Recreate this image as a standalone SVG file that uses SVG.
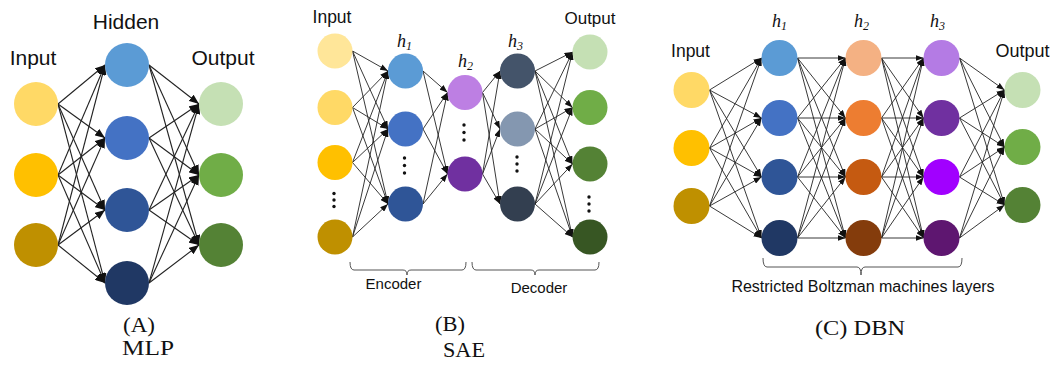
<svg xmlns="http://www.w3.org/2000/svg" width="1058" height="369" viewBox="0 0 1058 369">
  <defs>
    <marker id="arrA" markerUnits="userSpaceOnUse" markerWidth="10" markerHeight="8" refX="10" refY="4" orient="auto">
      <path d="M0,0 L10,4 L0,8 z" fill="#111"/>
    </marker>
    <marker id="arrB" markerUnits="userSpaceOnUse" markerWidth="8" markerHeight="6" refX="8" refY="3" orient="auto">
      <path d="M0,0 L8,3 L0,6 z" fill="#111"/>
    </marker>
  </defs>
  <style>
    .eA line { stroke: #222; stroke-width: 1.1; marker-end: url(#arrA); }
    .eB line { stroke: #222; stroke-width: 0.9; marker-end: url(#arrB); }
    .lbl { font-family: "Liberation Sans", Arial, sans-serif; fill: #111; text-anchor: middle; }
    .h { font-family: "Liberation Serif", "Times New Roman", serif; font-style: italic; fill: #111; }
    .cap { font-family: "Liberation Serif", "Times New Roman", serif; fill: #111; font-size: 22px; }
    .brace { fill: none; stroke: #555; stroke-width: 1; }
    .dot { fill: #111; }
  </style>
  <rect width="1058" height="369" fill="#fff"/>

  <!-- ===== (A) MLP connectors ===== -->
  <g id="connectors-mlp" class="eA">
    <line x1="58" y1="104" x2="105" y2="65"/><line x1="58" y1="104" x2="105" y2="138"/><line x1="58" y1="104" x2="105" y2="210"/><line x1="58" y1="104" x2="105" y2="283"/>
    <line x1="58" y1="175" x2="105" y2="65"/><line x1="58" y1="175" x2="105" y2="138"/><line x1="58" y1="175" x2="105" y2="210"/><line x1="58" y1="175" x2="105" y2="283"/>
    <line x1="58" y1="245" x2="105" y2="65"/><line x1="58" y1="245" x2="105" y2="138"/><line x1="58" y1="245" x2="105" y2="210"/><line x1="58" y1="245" x2="105" y2="283"/>
    <line x1="149" y1="65" x2="199" y2="104"/><line x1="149" y1="65" x2="199" y2="175"/><line x1="149" y1="65" x2="199" y2="245"/>
    <line x1="149" y1="138" x2="199" y2="104"/><line x1="149" y1="138" x2="199" y2="175"/><line x1="149" y1="138" x2="199" y2="245"/>
    <line x1="149" y1="210" x2="199" y2="104"/><line x1="149" y1="210" x2="199" y2="175"/><line x1="149" y1="210" x2="199" y2="245"/>
    <line x1="149" y1="283" x2="199" y2="104"/><line x1="149" y1="283" x2="199" y2="175"/><line x1="149" y1="283" x2="199" y2="245"/>
  </g>

  <!-- ===== (A) MLP nodes ===== -->
  <g id="mlp-in1"><circle cx="36" cy="104" r="22" fill="#FFD966"/></g>
  <g id="mlp-in2"><circle cx="36" cy="175" r="22" fill="#FFC000"/></g>
  <g id="mlp-in3"><circle cx="36" cy="245" r="22" fill="#BF9000"/></g>
  <g id="mlp-h1"><circle cx="127" cy="65" r="22" fill="#5B9BD5"/></g>
  <g id="mlp-h2"><circle cx="127" cy="138" r="22" fill="#4472C4"/></g>
  <g id="mlp-h3"><circle cx="127" cy="210" r="22" fill="#2F5597"/></g>
  <g id="mlp-h4"><circle cx="127" cy="283" r="22" fill="#203864"/></g>
  <g id="mlp-out1"><circle cx="221" cy="104" r="22" fill="#C5E0B4"/></g>
  <g id="mlp-out2"><circle cx="221" cy="175" r="22" fill="#70AD47"/></g>
  <g id="mlp-out3"><circle cx="221" cy="245" r="22" fill="#548235"/></g>
  <g id="mlp-labels">
    <text class="lbl" x="33" y="65" font-size="21">Input</text>
    <text class="lbl" x="126" y="29" font-size="21">Hidden</text>
    <text class="lbl" x="223" y="65" font-size="21">Output</text>
  </g>

  <!-- ===== (B) SAE connectors ===== -->
  <g id="connectors-sae" class="eB">
    <line x1="352.5" y1="51" x2="388" y2="71"/><line x1="352.5" y1="51" x2="388" y2="129"/><line x1="352.5" y1="51" x2="388" y2="204"/>
    <line x1="352.5" y1="107.5" x2="388" y2="71"/><line x1="352.5" y1="107.5" x2="388" y2="129"/><line x1="352.5" y1="107.5" x2="388" y2="204"/>
    <line x1="352.5" y1="162.5" x2="388" y2="71"/><line x1="352.5" y1="162.5" x2="388" y2="129"/><line x1="352.5" y1="162.5" x2="388" y2="204"/>
    <line x1="352.5" y1="237" x2="388" y2="71"/><line x1="352.5" y1="237" x2="388" y2="129"/><line x1="352.5" y1="237" x2="388" y2="204"/>
    <line x1="423" y1="71" x2="447.5" y2="92.5"/><line x1="423" y1="71" x2="447.5" y2="174"/>
    <line x1="423" y1="129" x2="447.5" y2="92.5"/><line x1="423" y1="129" x2="447.5" y2="174"/>
    <line x1="423" y1="204" x2="447.5" y2="92.5"/><line x1="423" y1="204" x2="447.5" y2="174"/>
    <line x1="482.5" y1="92.5" x2="500" y2="71"/><line x1="482.5" y1="92.5" x2="500" y2="129"/><line x1="482.5" y1="92.5" x2="500" y2="204"/>
    <line x1="482.5" y1="174" x2="500" y2="71"/><line x1="482.5" y1="174" x2="500" y2="129"/><line x1="482.5" y1="174" x2="500" y2="204"/>
    <line x1="535" y1="71" x2="572.5" y2="52"/><line x1="535" y1="71" x2="572.5" y2="107.5"/><line x1="535" y1="71" x2="572.5" y2="164"/><line x1="535" y1="71" x2="572.5" y2="237"/>
    <line x1="535" y1="129" x2="572.5" y2="52"/><line x1="535" y1="129" x2="572.5" y2="107.5"/><line x1="535" y1="129" x2="572.5" y2="164"/><line x1="535" y1="129" x2="572.5" y2="237"/>
    <line x1="535" y1="204" x2="572.5" y2="52"/><line x1="535" y1="204" x2="572.5" y2="107.5"/><line x1="535" y1="204" x2="572.5" y2="164"/><line x1="535" y1="204" x2="572.5" y2="237"/>
  </g>

  <!-- ===== (B) SAE nodes ===== -->
  <g id="sae-in1"><circle cx="335" cy="51" r="17.5" fill="#FFE699"/></g>
  <g id="sae-in2"><circle cx="335" cy="107.5" r="17.5" fill="#FFD966"/></g>
  <g id="sae-in3"><circle cx="335" cy="162.5" r="17.5" fill="#FFC000"/></g>
  <g id="sae-in4"><circle cx="335" cy="237" r="17.5" fill="#BF9000"/></g>
  <g id="sae-h1a"><circle cx="405.5" cy="71" r="17.5" fill="#5B9BD5"/></g>
  <g id="sae-h1b"><circle cx="405.5" cy="129" r="17.5" fill="#4472C4"/></g>
  <g id="sae-h1c"><circle cx="405.5" cy="204" r="17.5" fill="#2F5597"/></g>
  <g id="sae-h2a"><circle cx="465" cy="92.5" r="17.5" fill="#BD7FE3"/></g>
  <g id="sae-h2b"><circle cx="465" cy="174" r="17.5" fill="#7030A0"/></g>
  <g id="sae-h3a"><circle cx="517.5" cy="71" r="17.5" fill="#44546A"/></g>
  <g id="sae-h3b"><circle cx="517.5" cy="129" r="17.5" fill="#8497B0"/></g>
  <g id="sae-h3c"><circle cx="517.5" cy="204" r="17.5" fill="#333F50"/></g>
  <g id="sae-out1"><circle cx="590" cy="52" r="17.5" fill="#C5E0B4"/></g>
  <g id="sae-out2"><circle cx="590" cy="107.5" r="17.5" fill="#70AD47"/></g>
  <g id="sae-out3"><circle cx="590" cy="164" r="17.5" fill="#548235"/></g>
  <g id="sae-out4"><circle cx="590" cy="237" r="17.5" fill="#375623"/></g>

  <!-- vertical ellipses between nodes -->
  <g id="sae-dots">
    <circle class="dot" cx="334" cy="193.5" r="1.7"/><circle class="dot" cx="334" cy="200" r="1.7"/><circle class="dot" cx="334" cy="206.5" r="1.7"/>
    <circle class="dot" cx="404.5" cy="158" r="1.7"/><circle class="dot" cx="404.5" cy="165.5" r="1.7"/><circle class="dot" cx="404.5" cy="173" r="1.7"/>
    <circle class="dot" cx="464" cy="125" r="1.7"/><circle class="dot" cx="464" cy="132.5" r="1.7"/><circle class="dot" cx="464" cy="140" r="1.7"/>
    <circle class="dot" cx="517" cy="157" r="1.7"/><circle class="dot" cx="517" cy="164" r="1.7"/><circle class="dot" cx="517" cy="171" r="1.7"/>
    <circle class="dot" cx="589" cy="197" r="1.7"/><circle class="dot" cx="589" cy="204" r="1.7"/><circle class="dot" cx="589" cy="211" r="1.7"/>
  </g>

  <g id="sae-labels">
    <text class="lbl" x="332" y="23" font-size="17.5">Input</text>
    <text class="lbl" x="590" y="24" font-size="17">Output</text>
    <text class="h" x="397" y="47" font-size="18">h<tspan font-size="12" dy="3">1</tspan></text>
    <text class="h" x="458" y="67" font-size="18">h<tspan font-size="12" dy="3">2</tspan></text>
    <text class="h" x="508" y="47" font-size="18">h<tspan font-size="12" dy="3">3</tspan></text>
  </g>

  <g id="sae-encoder">
    <path class="brace" d="M350,262 Q350,270 354,270 L403,270 Q407,270 407,275 Q407,270 411,270 L462,270 Q466,270 466,262"/>
    <text class="lbl" x="393.5" y="289" font-size="15">Encoder</text>
  </g>
  <g id="sae-decoder">
    <path class="brace" d="M472,262 Q472,270 476,270 L531,270 Q535,270 535,275 Q535,270 539,270 L595,270 Q599,270 599,262"/>
    <text class="lbl" x="539" y="293" font-size="15">Decoder</text>
  </g>

  <!-- ===== (C) DBN connectors ===== -->
  <g id="connectors-dbn" class="eB">
    <line x1="709.5" y1="90" x2="761.5" y2="58"/><line x1="709.5" y1="90" x2="761.5" y2="118"/><line x1="709.5" y1="90" x2="761.5" y2="177"/><line x1="709.5" y1="90" x2="761.5" y2="238"/>
    <line x1="709.5" y1="148" x2="761.5" y2="58"/><line x1="709.5" y1="148" x2="761.5" y2="118"/><line x1="709.5" y1="148" x2="761.5" y2="177"/><line x1="709.5" y1="148" x2="761.5" y2="238"/>
    <line x1="709.5" y1="206" x2="761.5" y2="58"/><line x1="709.5" y1="206" x2="761.5" y2="118"/><line x1="709.5" y1="206" x2="761.5" y2="177"/><line x1="709.5" y1="206" x2="761.5" y2="238"/>

    <line x1="797.5" y1="58" x2="845.5" y2="58"/><line x1="797.5" y1="58" x2="845.5" y2="118"/><line x1="797.5" y1="58" x2="845.5" y2="177"/><line x1="797.5" y1="58" x2="845.5" y2="238"/>
    <line x1="797.5" y1="118" x2="845.5" y2="58"/><line x1="797.5" y1="118" x2="845.5" y2="118"/><line x1="797.5" y1="118" x2="845.5" y2="177"/><line x1="797.5" y1="118" x2="845.5" y2="238"/>
    <line x1="797.5" y1="177" x2="845.5" y2="58"/><line x1="797.5" y1="177" x2="845.5" y2="118"/><line x1="797.5" y1="177" x2="845.5" y2="177"/><line x1="797.5" y1="177" x2="845.5" y2="238"/>
    <line x1="797.5" y1="238" x2="845.5" y2="58"/><line x1="797.5" y1="238" x2="845.5" y2="118"/><line x1="797.5" y1="238" x2="845.5" y2="177"/><line x1="797.5" y1="238" x2="845.5" y2="238"/>

    <line x1="881.5" y1="58" x2="923.5" y2="58"/><line x1="881.5" y1="58" x2="923.5" y2="118"/><line x1="881.5" y1="58" x2="923.5" y2="177"/><line x1="881.5" y1="58" x2="923.5" y2="238"/>
    <line x1="881.5" y1="118" x2="923.5" y2="58"/><line x1="881.5" y1="118" x2="923.5" y2="118"/><line x1="881.5" y1="118" x2="923.5" y2="177"/><line x1="881.5" y1="118" x2="923.5" y2="238"/>
    <line x1="881.5" y1="177" x2="923.5" y2="58"/><line x1="881.5" y1="177" x2="923.5" y2="118"/><line x1="881.5" y1="177" x2="923.5" y2="177"/><line x1="881.5" y1="177" x2="923.5" y2="238"/>
    <line x1="881.5" y1="238" x2="923.5" y2="58"/><line x1="881.5" y1="238" x2="923.5" y2="118"/><line x1="881.5" y1="238" x2="923.5" y2="177"/><line x1="881.5" y1="238" x2="923.5" y2="238"/>

    <line x1="959.5" y1="58" x2="1004.5" y2="90"/><line x1="959.5" y1="58" x2="1004.5" y2="147"/><line x1="959.5" y1="58" x2="1004.5" y2="205"/>
    <line x1="959.5" y1="118" x2="1004.5" y2="90"/><line x1="959.5" y1="118" x2="1004.5" y2="147"/><line x1="959.5" y1="118" x2="1004.5" y2="205"/>
    <line x1="959.5" y1="177" x2="1004.5" y2="90"/><line x1="959.5" y1="177" x2="1004.5" y2="147"/><line x1="959.5" y1="177" x2="1004.5" y2="205"/>
    <line x1="959.5" y1="238" x2="1004.5" y2="90"/><line x1="959.5" y1="238" x2="1004.5" y2="147"/><line x1="959.5" y1="238" x2="1004.5" y2="205"/>
  </g>

  <!-- ===== (C) DBN nodes ===== -->
  <g id="dbn-in1"><circle cx="691.5" cy="90" r="18" fill="#FFD966"/></g>
  <g id="dbn-in2"><circle cx="691.5" cy="148" r="18" fill="#FFC000"/></g>
  <g id="dbn-in3"><circle cx="691.5" cy="206" r="18" fill="#BF9000"/></g>
  <g id="dbn-h1a"><circle cx="779.5" cy="58" r="18" fill="#5B9BD5"/></g>
  <g id="dbn-h1b"><circle cx="779.5" cy="118" r="18" fill="#4472C4"/></g>
  <g id="dbn-h1c"><circle cx="779.5" cy="177" r="18" fill="#2F5597"/></g>
  <g id="dbn-h1d"><circle cx="779.5" cy="238" r="18" fill="#203864"/></g>
  <g id="dbn-h2a"><circle cx="863.5" cy="58" r="18" fill="#F4B183"/></g>
  <g id="dbn-h2b"><circle cx="863.5" cy="118" r="18" fill="#ED7D31"/></g>
  <g id="dbn-h2c"><circle cx="863.5" cy="177" r="18" fill="#C55A11"/></g>
  <g id="dbn-h2d"><circle cx="863.5" cy="238" r="18" fill="#843C0C"/></g>
  <g id="dbn-h3a"><circle cx="941.5" cy="58" r="18" fill="#B47BE4"/></g>
  <g id="dbn-h3b"><circle cx="941.5" cy="118" r="18" fill="#7030A0"/></g>
  <g id="dbn-h3c"><circle cx="941.5" cy="177" r="18" fill="#A100FF"/></g>
  <g id="dbn-h3d"><circle cx="941.5" cy="238" r="18" fill="#5E1670"/></g>
  <g id="dbn-out1"><circle cx="1022.5" cy="90" r="18" fill="#C5E0B4"/></g>
  <g id="dbn-out2"><circle cx="1022.5" cy="147" r="18" fill="#70AD47"/></g>
  <g id="dbn-out3"><circle cx="1022.5" cy="205" r="18" fill="#548235"/></g>

  <g id="dbn-labels">
    <text class="lbl" x="690.5" y="57" font-size="17.5">Input</text>
    <text class="lbl" x="1022.5" y="57" font-size="18">Output</text>
    <text class="h" x="772" y="27" font-size="18">h<tspan font-size="12" dy="3">1</tspan></text>
    <text class="h" x="854" y="27" font-size="18">h<tspan font-size="12" dy="3">2</tspan></text>
    <text class="h" x="930" y="27" font-size="18">h<tspan font-size="12" dy="3">3</tspan></text>
  </g>
  <g id="dbn-rbm">
    <path class="brace" d="M763,258 Q763,267 767,267 L857,267 Q861,267 861,275 Q861,267 865,267 L958,267 Q962,267 962,258"/>
    <text class="lbl" x="863" y="292" font-size="16">Restricted Boltzman machines layers</text>
  </g>

  <!-- ===== captions ===== -->
  <g id="captions">
    <text class="cap" x="123" y="332" textLength="32" lengthAdjust="spacingAndGlyphs">(A)</text>
    <text class="cap" x="122" y="355" textLength="52" lengthAdjust="spacingAndGlyphs">MLP</text>
    <text class="cap" x="435" y="331" textLength="30" lengthAdjust="spacingAndGlyphs">(B)</text>
    <text class="cap" x="443" y="357" textLength="42" lengthAdjust="spacingAndGlyphs">SAE</text>
    <text class="cap" x="815" y="335" textLength="90" lengthAdjust="spacingAndGlyphs">(C) DBN</text>
  </g>
</svg>
